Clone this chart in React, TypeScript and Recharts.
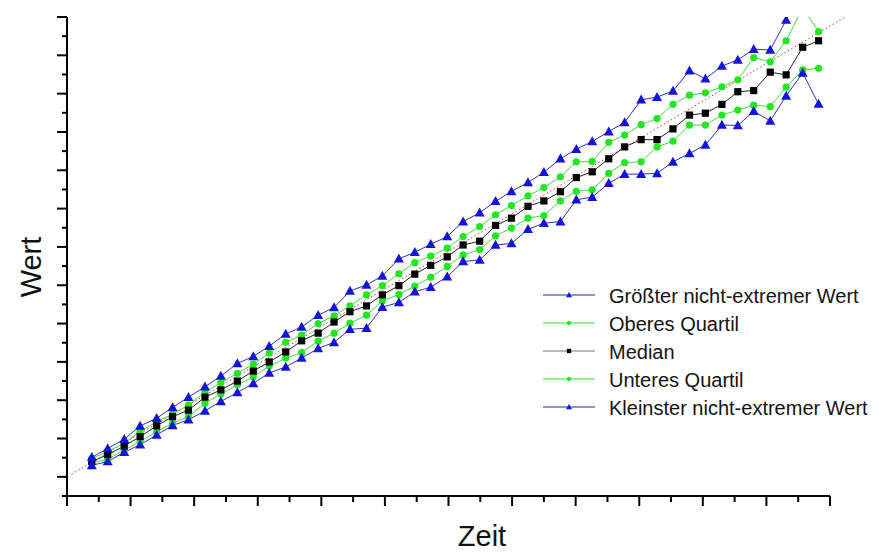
import React from 'react';
import { LineChart, Line, XAxis, YAxis, Legend, ReferenceLine } from 'recharts';

// Zeitpunkte (x) und die fünf Kennwerte je Zeitpunkt
const zeit = [
  0.39, 0.64, 0.9, 1.15, 1.41, 1.66, 1.91, 2.17, 2.42, 2.68, 2.93, 3.18, 3.44, 3.69, 3.95, 4.2,
  4.45, 4.71, 4.96, 5.22, 5.47, 5.72, 5.98, 6.23, 6.49, 6.74, 6.99, 7.25, 7.5, 7.76, 8.01, 8.26,
  8.52, 8.77, 9.03, 9.28, 9.53, 9.79, 10.04, 10.3, 10.55, 10.8, 11.06, 11.31, 11.57, 11.82,
];
const groesster = [
  5.1, 7.4, 9.8, 13.3, 15.3, 18.1, 20.8, 23.5, 26.3, 29.6, 31.4, 34.1, 37.3, 39.1, 42.2, 44.2,
  48.5, 50.1, 52.4, 56.9, 58.6, 60.7, 62.7, 66.6, 68.9, 71.9, 74.5, 76.8, 79.5, 83.0, 85.5, 87.5,
  90.1, 92.5, 98.4, 99.1, 100.7, 106.0, 103.9, 107.2, 108.8, 111.6, 111.4, 119.2, 127.0, 126.0,
];
const oberesQuartil = [
  4.8, 6.6, 8.8, 11.8, 14.4, 16.4, 18.7, 22.1, 24.6, 27.0, 29.4, 32.3, 35.1, 37.0, 40.0, 42.0,
  44.6, 47.5, 49.9, 53.0, 55.9, 57.6, 59.7, 62.7, 65.3, 68.4, 70.8, 73.3, 75.5, 78.3, 82.2, 82.3,
  87.3, 89.2, 91.9, 93.5, 97.2, 99.6, 100.2, 101.8, 103.6, 109.4, 108.3, 113.8, 122.3, 116.2,
];
const median = [
  4.0, 5.8, 8.0, 10.5, 13.3, 15.7, 17.4, 20.8, 22.7, 25.0, 27.6, 30.0, 32.6, 35.5, 37.5, 40.4,
  43.1, 44.6, 47.5, 49.9, 52.9, 55.2, 57.4, 60.5, 61.5, 65.6, 67.5, 70.6, 72.0, 74.4, 78.1, 79.6,
  83.0, 86.1, 88.0, 88.0, 90.8, 94.4, 94.9, 97.2, 100.5, 100.8, 105.6, 104.9, 112.1, 113.8,
];
const unteresQuartil = [
  3.6, 4.6, 7.0, 9.2, 11.8, 14.0, 15.7, 19.2, 21.6, 24.0, 26.1, 28.9, 31.0, 32.4, 35.4, 37.5,
  40.1, 42.2, 45.9, 47.6, 49.8, 52.1, 54.9, 57.9, 59.3, 62.9, 64.9, 67.5, 68.2, 72.0, 74.5, 74.9,
  79.2, 82.0, 82.2, 86.1, 87.6, 91.8, 91.8, 94.4, 95.7, 97.0, 96.6, 101.7, 106.2, 106.6,
];
const kleinster = [
  3.0, 4.0, 6.4, 8.4, 10.9, 13.4, 14.9, 17.2, 19.7, 22.0, 24.4, 27.1, 28.7, 31.0, 33.5, 35.1,
  38.5, 38.8, 44.3, 45.5, 48.3, 49.5, 52.2, 56.2, 56.6, 60.5, 60.9, 64.6, 66.2, 66.6, 72.3, 73.0,
  76.6, 79.0, 79.0, 79.2, 82.2, 84.4, 86.6, 91.8, 91.7, 95.4, 92.9, 99.4, 105.4, 97.3,
];
const trendZeit = [0.07, 12.24];
const trendWert = [0.7, 120];

const xTicks = [0, 0.5, 1, 1.5, 2, 2.5, 3, 3.5, 4, 4.5, 5, 5.5, 6, 6.5, 7, 7.5, 8, 8.5, 9, 9.5, 10, 10.5, 11, 11.5, 12];
const yTicks = [-5, 0, 5, 10, 15, 20, 25, 30, 35, 40, 45, 50, 55, 60, 65, 70, 75, 80, 85, 90, 95, 100, 105, 110, 115, 120];

const rows = zeit.map((t, i) => ({
  zeit: t,
  max: groesster[i],
  q3: oberesQuartil[i],
  med: median[i],
  q1: unteresQuartil[i],
  min: kleinster[i],
}));

const FONT = '"Liberation Sans", Arial, sans-serif';

type Shape = 'triangle' | 'circle' | 'square';

const series: { key: string; name: string; fill: string; stroke: string; legendStroke: string; shape: Shape }[] = [
  { key: 'max', name: 'Größter nicht-extremer Wert', fill: '#1414d8', stroke: '#3030c4', legendStroke: '#2020c8', shape: 'triangle' },
  { key: 'q3', name: 'Oberes Quartil', fill: '#22e622', stroke: '#40dc40', legendStroke: '#30e030', shape: 'circle' },
  { key: 'med', name: 'Median', fill: '#000000', stroke: '#222222', legendStroke: '#777777', shape: 'square' },
  { key: 'q1', name: 'Unteres Quartil', fill: '#22e622', stroke: '#40dc40', legendStroke: '#30e030', shape: 'circle' },
  { key: 'min', name: 'Kleinster nicht-extremer Wert', fill: '#1414d8', stroke: '#3030c4', legendStroke: '#2020c8', shape: 'triangle' },
];

const Marker = ({ shape, cx, cy, fill, s = 1 }: { shape: Shape; cx: number; cy: number; fill: string; s?: number }) => {
  if (cx == null || cy == null) return null;
  if (shape === 'triangle') {
    const pts = `${cx},${cy - 5.2 * s} ${cx - 5 * s},${cy + 3.8 * s} ${cx + 5 * s},${cy + 3.8 * s}`;
    return <polygon points={pts} fill={fill} />;
  }
  if (shape === 'circle') return <circle cx={cx} cy={cy} r={3.6 * s} fill={fill} />;
  return <rect x={cx - 3.6 * s} y={cy - 3.6 * s} width={7.2 * s} height={7.2 * s} fill={fill} />;
};

const XTick = (props: any) => {
  const { x, y, payload } = props;
  const major = Number.isInteger(payload.value);
  return <line x1={x} y1={y} x2={x} y2={y + (major ? 10 : 6)} stroke="#000" strokeWidth={2} />;
};

const YTick = (props: any) => {
  const { x, y, payload } = props;
  const major = payload.value % 10 === 0;
  return <line x1={x} y1={y} x2={x - (major ? 10 : 5)} y2={y} stroke="#000" strokeWidth={2} />;
};

const LegendBox = () => (
  <svg width={349} height={145}>
    {series.map((s, i) => {
      const cy = 15 + 28 * i;
      return (
        <g key={s.key}>
          <line x1={5} y1={cy} x2={57} y2={cy} stroke={s.legendStroke} strokeWidth={1} />
          <Marker shape={s.shape} cx={31} cy={cy} fill={s.fill} s={0.6} />
          <text x={71} y={cy + 8} fontSize={20} fill="#141414" fontFamily={FONT}>
            {s.name}
          </text>
        </g>
      );
    })}
  </svg>
);

const drawOrder = ['q1', 'q3', 'med', 'max', 'min'];

export default function App() {
  return (
    <div style={{ position: 'absolute', left: 0, top: 0, width: 887, height: 554, background: '#fff', fontFamily: FONT }}>
      <LineChart width={887} height={554} data={rows} margin={{ top: 17, right: 57, bottom: 48, left: 57 }}>
        <XAxis
          type="number"
          dataKey="zeit"
          domain={[0, 12]}
          ticks={xTicks}
          interval={0}
          height={10}
          tickSize={0}
          tickMargin={0}
          tickLine={false}
          tick={XTick}
          axisLine={{ stroke: '#000', strokeWidth: 2 }}
          label={{
            content: () => (
              <text x={482} y={546} textAnchor="middle" fontSize={29} fill="#111" fontFamily={FONT}>
                Zeit
              </text>
            ),
          }}
        />
        <YAxis
          type="number"
          domain={[-5, 120]}
          ticks={yTicks}
          interval={0}
          allowDataOverflow
          width={10}
          tickSize={0}
          tickMargin={0}
          tickLine={false}
          tick={YTick}
          axisLine={{ stroke: '#000', strokeWidth: 2 }}
          label={{
            content: () => (
              <text
                x={41}
                y={267}
                transform="rotate(-90 41 267)"
                textAnchor="middle"
                fontSize={29}
                fill="#111"
                fontFamily={FONT}
              >
                Wert
              </text>
            ),
          }}
        />
        <ReferenceLine
          segment={[
            { x: trendZeit[0], y: trendWert[0] },
            { x: trendZeit[1], y: trendWert[1] },
          ]}
          stroke="#e03030"
          strokeWidth={1}
          strokeDasharray="1.5 2.5"
          ifOverflow="visible"
        />
        {drawOrder.map((k) => {
          const s = series.find((d) => d.key === k)!;
          return (
            <Line
              key={s.key}
              type="linear"
              dataKey={s.key}
              name={s.name}
              stroke={s.stroke}
              strokeWidth={1}
              isAnimationActive={false}
              activeDot={false}
              dot={(p: any) => (
                <Marker key={`${s.key}-${p.index}`} shape={s.shape} cx={p.cx} cy={p.cy} fill={s.fill} />
              )}
            />
          );
        })}
        <Legend
          layout="vertical"
          align="center"
          verticalAlign="middle"
          wrapperStyle={{ left: 538, top: 280, width: 349, height: 145 }}
          content={() => <LegendBox />}
        />
      </LineChart>
    </div>
  );
}
